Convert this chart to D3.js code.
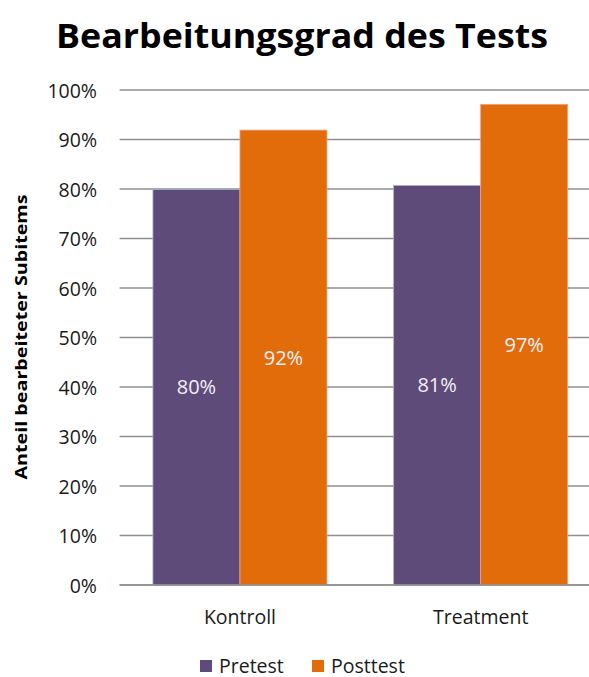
<!DOCTYPE html>
<html><head><meta charset="utf-8">
<script src="https://cdn.jsdelivr.net/npm/d3@7"></script>
<style>html,body{margin:0;padding:0;background:#fff;overflow:hidden}</style>
</head><body>
<svg id="c" width="589" height="677"></svg>
<script>
const categories = ["Kontroll", "Treatment"];
const seriesNames = ["Pretest", "Posttest"];
const pretest = [0.799, 0.807];
const posttest = [0.919, 0.971];
const yTicks = [0, 0.1, 0.2, 0.3, 0.4, 0.5, 0.6, 0.7, 0.8, 0.9, 1.0];
const colors = ["#5f4b7a", "#e36c0a"];
const strokes = ["#9fb2d8", "#f0a08a"];

const font = "'Open Sans', Lato, sans-serif";
const svg = d3.select("#c");
const plotLeft = 119.6, plotRight = 601, plotTop = 90, plotBottom = 585;

const x = d3.scaleBand().domain(categories).range([plotLeft, plotRight]).paddingInner(0.277).paddingOuter(0.1385);
const x1 = d3.scaleBand().domain(seriesNames).range([0, x.bandwidth()]);
const y = d3.scaleLinear().domain([0, 1]).range([plotBottom, plotTop]);

// gridlines
svg.append("g").selectAll("line").data(yTicks).join("line")
  .attr("x1", plotLeft).attr("x2", plotRight)
  .attr("y1", d => y(d)).attr("y2", d => y(d))
  .attr("stroke", "#8f8f8f").attr("stroke-width", 1.3);

// y tick labels
const yAxis = d3.axisLeft(y).tickValues(yTicks).tickFormat(d3.format(".0%")).tickSize(0).tickPadding(0);
const ga = svg.append("g").attr("transform", `translate(97,0)`).call(yAxis);
ga.select(".domain").remove();
ga.selectAll("text").attr("font-family", font).attr("font-size", 19.5).attr("fill", "#1a1a1a").attr("dy", "0.36em");

const data = categories.map((c, i) => ({cat: c, vals: [pretest[i], posttest[i]]}));
const groups = svg.append("g").selectAll("g").data(data).join("g")
  .attr("transform", d => `translate(${x(d.cat)},0)`);
groups.selectAll("rect").data(d => d.vals.map((v, j) => ({v, j}))).join("rect")
  .attr("x", d => x1(seriesNames[d.j])).attr("width", x1.bandwidth())
  .attr("y", d => y(d.v)).attr("height", d => y(0) - y(d.v))
  .attr("fill", d => colors[d.j]).attr("stroke", d => strokes[d.j]).attr("stroke-width", 0.8);
groups.selectAll("text").data(d => d.vals.map((v, j) => ({v, j}))).join("text")
  .attr("x", d => x1(seriesNames[d.j]) + x1.bandwidth() / 2)
  .attr("y", d => (y(d.v) + y(0)) / 2)
  .attr("dy", "0.36em").attr("text-anchor", "middle")
  .attr("font-family", font).attr("font-size", 20).attr("fill", "#f2f0fa")
  .text(d => d3.format(".0%")(d.v));

// baseline axis
svg.append("line").attr("x1", plotLeft).attr("x2", plotRight).attr("y1", y(0)).attr("y2", y(0))
  .attr("stroke", "#8f8f8f").attr("stroke-width", 1.3);

// x labels
const xAxis = d3.axisBottom(x).tickSize(0).tickPadding(0);
const gx = svg.append("g").attr("transform", `translate(0,${y(0)})`).call(xAxis);
gx.select(".domain").remove();
gx.selectAll("text").attr("font-family", font).attr("font-size", 19.5).attr("fill", "#1a1a1a").attr("dy", null).attr("y", 39);

// title
svg.append("text").attr("x", 302).attr("y", 48).attr("text-anchor", "middle")
  .attr("font-family", font).attr("font-weight", "bold").attr("font-size", 34).attr("fill", "#000")
  .attr("textLength", 492).attr("lengthAdjust", "spacingAndGlyphs")
  .text("Bearbeitungsgrad des Tests");

// y title
svg.append("text").attr("transform", "translate(27,337) rotate(-90)").attr("text-anchor", "middle")
  .attr("font-family", font).attr("font-weight", "bold").attr("font-size", 16).attr("fill", "#000")
  .attr("textLength", 285).attr("lengthAdjust", "spacingAndGlyphs")
  .text("Anteil bearbeiteter Subitems");

// legend
const legX = [200, 312];
const lg = svg.append("g").selectAll("g").data(seriesNames).join("g")
  .attr("transform", (d, i) => `translate(${legX[i]},660)`);
lg.append("rect").attr("width", 12).attr("height", 12).attr("fill", (d, i) => colors[i]);
lg.append("text").attr("x", 19).attr("y", 12.5).attr("font-family", font).attr("font-size", 19.5).attr("fill", "#1a1a1a").text(d => d);
</script>
</body></html>
